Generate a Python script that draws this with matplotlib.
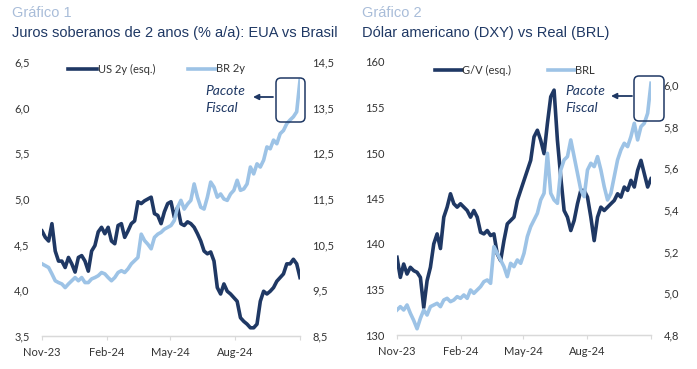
import matplotlib
matplotlib.use("Agg")
import matplotlib.pyplot as plt
from matplotlib.lines import Line2D
from matplotlib.patches import FancyBboxPatch, FancyArrowPatch
from matplotlib.ticker import FuncFormatter, FixedLocator
import pandas as pd

# ---------------- data ----------------
start_date = "2023-11-01"
end_date = "2024-11-01"

us_2y = [4.65, 4.58, 4.54, 4.73, 4.43, 4.32, 4.32, 4.25, 4.36, 4.29, 4.20, 4.36, 4.38, 4.32,
         4.21, 4.43, 4.49, 4.64, 4.69, 4.62, 4.69, 4.54, 4.51, 4.71, 4.73, 4.58, 4.65, 4.73,
         4.76, 4.97, 4.95, 4.98, 5.00, 5.02, 4.84, 4.82, 4.73, 4.86, 4.95, 4.97, 4.80,
         4.91, 4.73, 4.71, 4.75, 4.73, 4.69, 4.62, 4.54, 4.43, 4.40, 4.42, 4.32, 4.03, 3.96,
         4.07, 3.99, 3.96, 3.92, 3.88, 3.70, 3.66, 3.63, 3.59, 3.59, 3.63, 3.88, 3.99, 3.96,
         3.99, 4.03, 4.10, 4.14, 4.18, 4.29, 4.29, 4.34, 4.29, 4.14]
br_2y = [10.08, 10.04, 10.00, 9.86, 9.71, 9.67, 9.64, 9.56, 9.64, 9.71, 9.78, 9.71, 9.78, 9.67,
         9.67, 9.75, 9.78, 9.82, 9.89, 9.86, 9.78, 9.71, 9.78, 9.89, 9.93, 9.89, 9.97, 10.08,
         10.15, 10.22, 10.73, 10.59, 10.51, 10.41, 10.66, 10.73, 10.77, 10.84, 10.88, 10.92, 11.03,
         11.32, 11.47, 11.28, 11.39, 11.47, 11.83, 11.54, 11.32, 11.28, 11.54, 11.87, 11.76, 11.54,
         11.61, 11.50, 11.47, 11.61, 11.69, 11.91, 11.69, 11.72, 11.83, 12.20, 12.05, 12.27, 12.20,
         12.35, 12.64, 12.60, 12.79, 12.71, 12.93, 13.00, 13.15, 13.23, 13.30, 13.41, 14.10]

gv = [138.54, 136.33, 137.80, 136.70, 137.44, 137.07, 136.89, 136.33, 133.02, 135.97, 137.44,
      140.01, 141.11, 139.50, 142.95, 144.05, 145.52, 144.42, 144.05, 144.42, 144.05, 143.68,
      142.95, 143.68, 142.95, 141.29, 141.11, 141.48, 140.93, 141.11, 138.90, 138.17, 140.37,
      142.21, 142.58, 142.95, 144.78, 145.89, 146.99,
      148.09, 149.19, 151.77, 152.50, 151.40, 149.93, 153.24, 156.18, 156.91, 151.40, 147.36,
      143.68, 142.95, 141.48, 142.58, 144.42, 145.89, 145.89, 145.15, 142.95, 140.37, 142.95,
      144.05, 143.68, 144.05, 144.42, 144.78, 145.52, 145.15, 146.26, 145.89, 146.99, 146.26,
      148.09, 149.19, 147.72, 146.26, 147.17]
brl = [4.92, 4.936, 4.92, 4.944, 4.904, 4.87, 4.83, 4.88, 4.92, 4.896, 4.936, 4.944, 4.952,
       4.936, 4.968, 4.976, 4.96, 4.968, 4.984, 4.976, 4.992, 4.976, 5.016, 5.00, 5.016, 5.032,
       5.056, 5.064, 5.048, 5.224, 5.192, 5.16, 5.128, 5.08, 5.144, 5.128, 5.16, 5.144, 5.192,
       5.272, 5.32, 5.352, 5.384, 5.448, 5.48, 5.672, 5.48, 5.448, 5.432, 5.592, 5.64, 5.656,
       5.736, 5.656, 5.576, 5.496, 5.464, 5.592, 5.624, 5.608, 5.656, 5.592, 5.512, 5.448, 5.48,
       5.56, 5.64, 5.688, 5.72, 5.704, 5.752, 5.816, 5.736, 5.80, 5.816, 5.864, 6.008]

tick_dates = ["2023-11-01", "2024-02-01", "2024-05-01", "2024-08-01", "2024-11-01"]
tick_labels = ["Nov-23", "Feb-24", "May-24", "Aug-24", ""]

DARK = "#1F3864"
LIGHT = "#9DC3E6"
TXT = "#333333"
TITLE_LIGHT = "#A9BDD9"

W, H = 697, 369
fig = plt.figure(figsize=(W / 100, H / 100), dpi=100)
fig.patch.set_facecolor("white")

SANS = ["Liberation Sans", "DejaVu Sans"]
CAL = ["Lato", "DejaVu Sans"]
LW = 2.6


def P(px, py):
    return (px / 100.0, (H - py) / 100.0)


def axes_rect(x0, y0, x1, y1):
    return [x0 / W, 1 - y1 / H, (x1 - x0) / W, (y1 - y0) / H]


def comma(fmt):
    return FuncFormatter(lambda v, p: (fmt % v).replace(".", ","))


def style_axes(ax, ax2):
    for a in (ax, ax2):
        for s in ("top", "left", "right"):
            a.spines[s].set_visible(False)
        a.spines["bottom"].set_color("#D9D9D9")
        a.spines["bottom"].set_linewidth(0.9)
        a.tick_params(axis="y", length=0, pad=9, labelsize=8, labelcolor=TXT)
        for lab in a.get_yticklabels():
            lab.set_family(CAL)
    ax.tick_params(axis="x", length=3, width=0.8, color="#D9D9D9", pad=5,
                   labelsize=8, labelcolor=TXT)
    for lab in ax.get_xticklabels():
        lab.set_family(CAL)
    ax2.tick_params(axis="x", length=0)


def make_chart(rect, s1, s2, lim1, ticks1, fmt1, lim2, ticks2, fmt2):
    ax = fig.add_axes(rect)
    ax2 = ax.twinx()
    d1 = pd.date_range(start_date, end_date, periods=len(s1))
    d2 = pd.date_range(start_date, end_date, periods=len(s2))
    l1, = ax.plot(d1, s1, color=DARK, lw=LW, solid_joinstyle="round")
    l2, = ax2.plot(d2, s2, color=LIGHT, lw=LW, solid_joinstyle="round")
    ax.set_xlim(pd.Timestamp(start_date), pd.Timestamp(end_date))
    ax.set_ylim(*lim1)
    ax2.set_ylim(*lim2)
    ax.yaxis.set_major_locator(FixedLocator(ticks1))
    ax2.yaxis.set_major_locator(FixedLocator(ticks2))
    ax.yaxis.set_major_formatter(comma(fmt1))
    ax2.yaxis.set_major_formatter(comma(fmt2))
    ax.set_xticks([pd.Timestamp(t) for t in tick_dates])
    ax.set_xticklabels(tick_labels)
    ax.patch.set_visible(False)
    style_axes(ax, ax2)
    return ax, ax2, l1, l2


# ---------------- chart 1 ----------------
ax, ax2, l1, l2 = make_chart(axes_rect(42, 62, 300, 336), us_2y, br_2y,
                             (3.5, 6.5), [3.5, 4.0, 4.5, 5.0, 5.5, 6.0, 6.5], "%.1f",
                             (8.5, 14.5), [8.5, 9.5, 10.5, 11.5, 12.5, 13.5, 14.5], "%.1f")

# ---------------- chart 2 ----------------
bx, bx2, m1, m2 = make_chart(axes_rect(397, 62, 651, 335), gv, brl,
                             (130, 160), [130, 135, 140, 145, 150, 155, 160], "%.0f",
                             (4.8, 6.11), [4.8, 5.0, 5.2, 5.4, 5.6, 5.8, 6.0], "%.1f")

# ---------------- titles ----------------
fig.text(12 / W, 1 - 13 / H, "Gráfico 1", family=SANS, fontsize=10.5, color=TITLE_LIGHT,
         va="center", ha="left")
fig.text(12 / W, 1 - 33 / H, "Juros soberanos de 2 anos (% a/a): EUA vs Brasil", family=SANS,
         fontsize=10.5, color=DARK, va="center", ha="left")
fig.text(362 / W, 1 - 13 / H, "Gráfico 2", family=SANS, fontsize=10.5, color=TITLE_LIGHT,
         va="center", ha="left")
fig.text(362 / W, 1 - 33 / H, "Dólar americano (DXY) vs Real (BRL)", family=SANS,
         fontsize=10.5, color=DARK, va="center", ha="left")


# ---------------- legends ----------------
def legend_item(line, x0, x1, y, label):
    fig.add_artist(Line2D([P(x0, y)[0], P(x1, y)[0]], [P(x0, y)[1], P(x1, y)[1]],
                          transform=fig.dpi_scale_trans, color=line.get_color(),
                          lw=line.get_linewidth()))
    tx, ty = P(x1 + 0.5, y)
    fig.text(tx, ty, label, transform=fig.dpi_scale_trans, family=CAL, fontsize=8,
             color=TXT, va="center", ha="left")


legend_item(l1, 68, 97, 69, "US 2y (esq.)")
legend_item(l2, 188, 216, 69, "BR 2y")
legend_item(m1, 435, 462, 70, "G/V (esq.)")
legend_item(m2, 548, 575, 70, "BRL")


# ---------------- annotations ----------------
def annot(tx, ty1, ty2, ax0, ax1, ay, bx0, by0, bx1, by1):
    for t, yy in (("Pacote", ty1), ("Fiscal", ty2)):
        px, py = P(tx, yy)
        fig.text(px, py, t, transform=fig.dpi_scale_trans, family=CAL, style="italic",
                 fontsize=10, color=DARK, va="center", ha="left")
    arr = FancyArrowPatch(P(ax0, ay), P(ax1, ay), transform=fig.dpi_scale_trans,
                          arrowstyle="-|>", mutation_scale=8, color=DARK, lw=1.3,
                          shrinkA=0, shrinkB=0)
    fig.add_artist(arr)
    x0, y0 = P(bx0, by1)
    x1, y1 = P(bx1, by0)
    box = FancyBboxPatch((x0, y0), x1 - x0, y1 - y0, boxstyle="round,pad=0,rounding_size=0.05",
                         transform=fig.dpi_scale_trans, fill=False, edgecolor=DARK, lw=1.1)
    fig.add_artist(box)


annot(205, 91, 108, 273, 253, 97, 276, 78, 305, 122)
annot(565, 91, 108, 632, 611, 96, 634, 76, 664, 121)

fig.savefig("out.png", dpi=100, facecolor="white")
